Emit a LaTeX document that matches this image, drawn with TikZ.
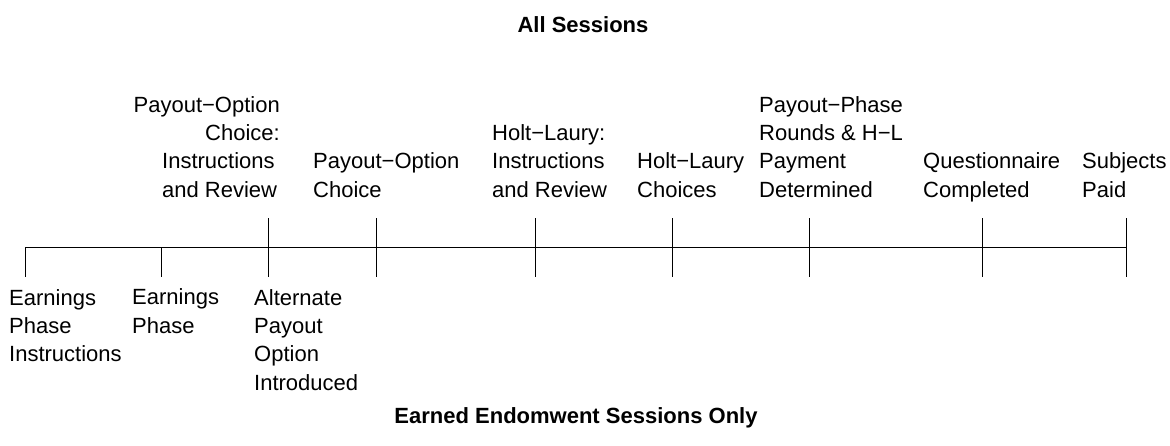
\documentclass[tikz,border=0pt]{standalone}
\usepackage{fontspec}
\setmainfont{Liberation Sans}
\begin{document}
\begin{tikzpicture}[x=1pt,y=-1pt,
  lbl/.style={inner sep=0pt, font=\fontsize{22}{28.33}\selectfont, align=left},
  lblr/.style={inner sep=0pt, font=\fontsize{22}{28.33}\selectfont, align=right},
  ttl/.style={inner sep=0pt, font=\fontsize{22}{28.33}\selectfont\bfseries},
  axis/.style={line width=1pt, black}]
\useasboundingbox (0,0) rectangle (1170,445);
% ticks below only
\foreach \n/\x in {t1/25,t2/161} {
  \coordinate (\n m) at (\x,247);
  \coordinate (\n b) at (\x,277);
  \draw[axis] (\n m) -- (\n b);
}
% ticks above and below
\foreach \n/\x in {t3/268,t4/376,t5/535,t6/672,t7/809,t8/982,t9/1126} {
  \coordinate (\n t) at (\x,218);
  \coordinate (\n m) at (\x,247);
  \coordinate (\n b) at (\x,277);
  \draw[axis] (\n t) -- (\n b);
}
\draw[axis] (t1m) -- (t9m);
% titles
\node[ttl, anchor=base] (top) at (583,32) {All Sessions};
\node[ttl, anchor=base] (bot) at (576,423) {Earned Endomwent Sessions Only};
% upper labels (anchor = baseline of last line)
\node[lblr, anchor=base east] (u1a) at (280,140.4) {Payout−Option\\Choice:};
\node[lbl, anchor=base west] (u1b) at (162,197) {Instructions\\and Review};
\node[lbl, anchor=base west] (u2) at (313,197) {Payout−Option\\Choice};
\node[lbl, anchor=base west] (u3) at (492,197) {Holt−Laury:\\Instructions\\and Review};
\node[lbl, anchor=base west] (u4) at (637,197) {Holt−Laury\\Choices};
\node[lbl, anchor=base west] (u5) at (759,197) {Payout−Phase\\Rounds \& H−L\\Payment\\Determined};
\node[lbl, anchor=base west] (u6) at (923,197) {Questionnaire\\Completed};
\node[lbl, anchor=base west] (u7) at (1082,197) {Subjects\\Paid};
% lower labels
\node[lbl, anchor=base west] (l1) at (9,361.7) {Earnings\\Phase\\Instructions};
\node[lbl, anchor=base west] (l2) at (132,333.3) {Earnings\\Phase};
\node[lbl, anchor=base west] (l3) at (254,390) {Alternate\\Payout\\Option\\Introduced};
\end{tikzpicture}
\end{document}
